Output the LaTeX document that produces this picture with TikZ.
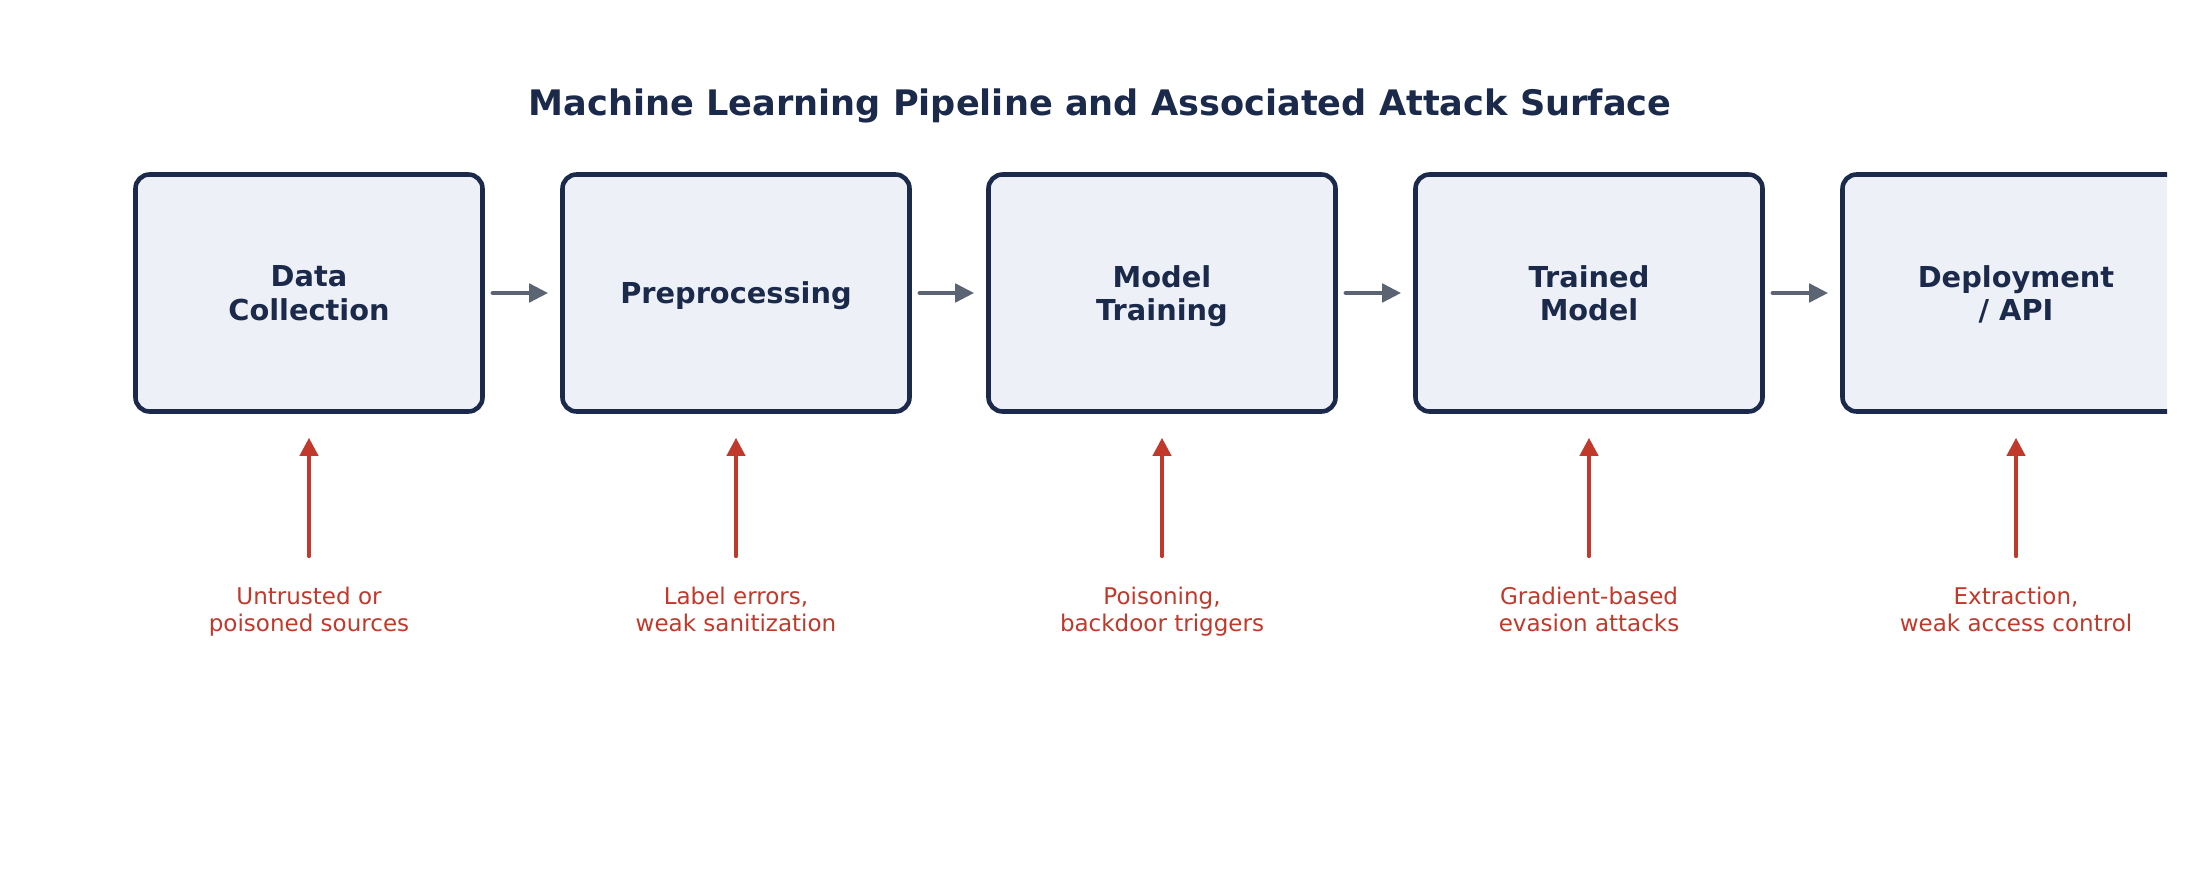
\documentclass[tikz,border=0pt]{standalone}
\usepackage{fontspec}
\setmainfont{DejaVu Sans}
\usepackage{xcolor}
\usepackage{tikz}
\usetikzlibrary{arrows.meta, positioning, calc}

\definecolor{navy}{HTML}{1B2A4A}
\definecolor{paleblue}{HTML}{EDF1F7}
\definecolor{slate}{HTML}{5A6472}
\definecolor{threatred}{HTML}{C0392B}

\begin{document}
\begin{tikzpicture}[>=Latex, every node/.style={font=\small}]
    \tikzstyle{stage}=[rectangle, draw=navy, line width=1.3pt, rounded corners=4pt, fill=paleblue, minimum width=3.47cm, minimum height=2.37cm, align=center, text=navy, text depth=0pt, font=\fontsize{8.2}{9.4}\selectfont\bfseries]
    \tikzstyle{risk}=[align=center, inner sep=0pt, text=threatred, font=\fontsize{6.55}{7.6}\selectfont]
    \tikzstyle{flow}=[-{Triangle[length=1.9mm, width=1.8mm]}, draw=slate, line width=1.3pt, line cap=round, shorten <=0.08cm, shorten >=0.12cm]
    \tikzstyle{attack}=[-{Triangle[length=1.8mm, width=1.8mm]}, draw=threatred, line width=1.1pt, line cap=round, shorten <=0.29cm, shorten >=0.24cm]

    \useasboundingbox (0,0) rectangle (22,8.8);

    \node[text=navy, font=\fontsize{10}{12}\selectfont\bfseries] (title) at (11.0, 7.74) {Machine Learning Pipeline and Associated Attack Surface};

    % pipeline stages (last one runs off the right edge)
    \begin{scope}
        \clip (0,0) rectangle (21.67,8.8);
        \node[stage] (data) at (3.09, 5.87) {Data\\Collection};
        \node[stage] (prep) at (7.36, 5.87) {Preprocessing};
        \node[stage] (train) at (11.62, 5.87) {Model\\Training};
        \node[stage] (model) at (15.89, 5.87) {Trained\\Model};
        \node[stage] (deploy) at (20.16, 5.87) {Deployment\\/ API};
    \end{scope}

    \node[risk] (risk1) at (3.09, 2.674) {\strut Untrusted or\\\strut poisoned sources};
    \node[risk] (risk2) at (7.36, 2.674) {\strut Label errors,\\\strut weak sanitization};
    \node[risk] (risk3) at (11.62, 2.674) {\strut Poisoning,\\\strut backdoor triggers};
    \node[risk] (risk4) at (15.89, 2.674) {\strut Gradient-based\\\strut evasion attacks};
    \node[risk] (risk5) at (20.16, 2.674) {\strut Extraction,\\\strut weak access control};

    \draw[flow] (data.east) -- (prep.west);
    \draw[flow] (prep.east) -- (train.west);
    \draw[flow] (train.east) -- (model.west);
    \draw[flow] (model.east) -- (deploy.west);

    \draw[attack] (risk1.north) -- (data.south);
    \draw[attack] (risk2.north) -- (prep.south);
    \draw[attack] (risk3.north) -- (train.south);
    \draw[attack] (risk4.north) -- (model.south);
    \draw[attack] (risk5.north) -- (deploy.south);
\end{tikzpicture}
\end{document}
